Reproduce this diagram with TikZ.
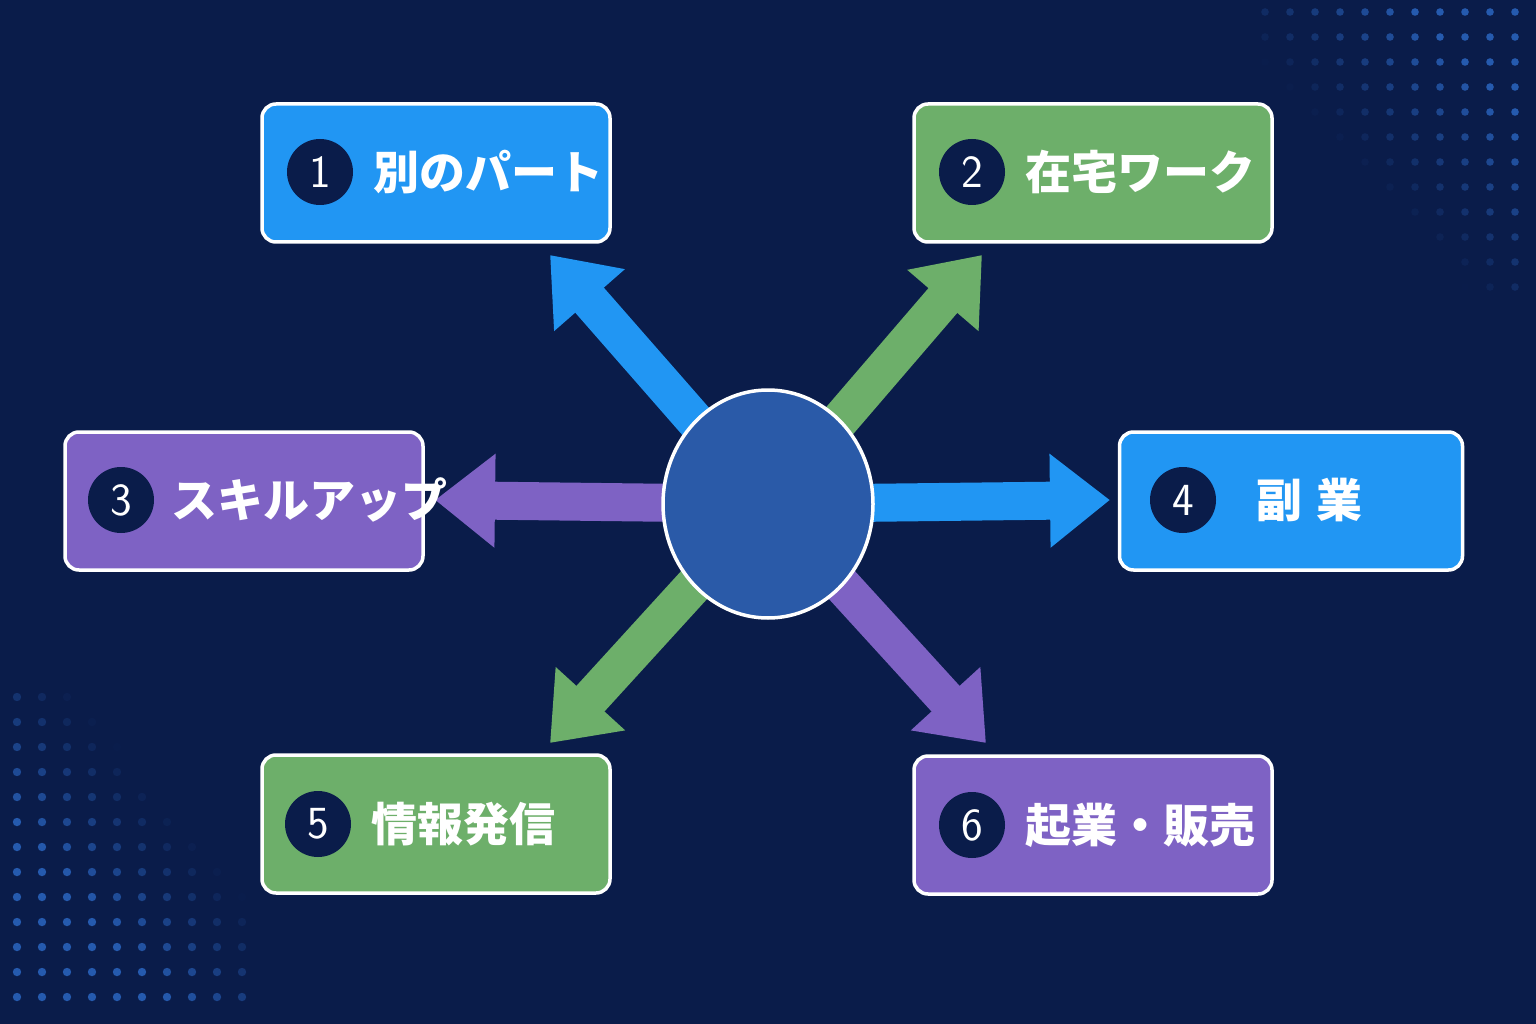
\documentclass[tikz,border=0pt]{standalone}
\usepackage{fontspec}
\newfontfamily\cjk{Noto Sans CJK JP}
\usetikzlibrary{arrows.meta,shapes.geometric}
\definecolor{bg}{HTML}{0A1C4A}
\definecolor{cblue}{HTML}{2196F3}
\definecolor{cgreen}{HTML}{6DAF6A}
\definecolor{cpurple}{HTML}{7E62C4}
\definecolor{ccircle}{HTML}{2A5AA8}
\definecolor{cdot}{HTML}{2F6FD0}
\definecolor{cnum}{HTML}{0A1C4A}
\begin{document}
\begin{tikzpicture}[x=1pt,y=-1pt,
 box/.style={draw=white,line width=3.5pt,rounded corners=14pt,minimum width=#1,minimum height=138pt,inner sep=0pt},
 num/.style={circle,fill=cnum,minimum size=66pt,inner sep=0pt,text=white,font=\fontsize{46}{46}\selectfont\sffamily},
 lab/.style={text=white,font=\cjk\bfseries\fontsize{46}{50}\selectfont,anchor=west},
 arr/.style={line width=38pt,-{Triangle[length=60pt,width=90pt]}}]
\fill[bg] (0,0) rectangle (1536,1024);
% dots
\foreach \i in {0,...,10}{\foreach \j in {0,...,11}{
 \pgfmathsetmacro\op{0.75*min(1,max(0,(\i-0.9*\j+2)/8))}
 \fill[cdot,opacity=\op] (1265+25*\i,12+25*\j) circle (3.8pt);}}
\foreach \i in {0,...,9}{\foreach \j in {0,...,12}{
 \pgfmathsetmacro\op{0.75*min(1,max(0,(\j-1.2*\i+3)/8))}
 \fill[cdot,opacity=\op] (17+25*\i,697+25*\j) circle (4.2pt);}}
% center
\coordinate (c) at (768,504);
\coordinate (t1) at (550,255);
\coordinate (t2) at (982,255);
\coordinate (t3) at (435,500);
\coordinate (t4) at (1110,500);
\coordinate (t5) at (550,743);
\coordinate (t6) at (986,743);
\draw[arr,cblue] (c) -- (t1);
\draw[arr,cgreen] (c) -- (t2);
\draw[arr,cpurple] (c) -- (t3);
\draw[arr,cblue] (c) -- (t4);
\draw[arr,cgreen] (c) -- (t5);
\draw[arr,cpurple] (c) -- (t6);
\node[ellipse,draw=white,line width=3.5pt,fill=ccircle,minimum width=210pt,minimum height=228pt] (center) at (c) {};
% boxes
\node[box=348pt,fill=cblue] (b1) at (436,173) {};
\node[box=358pt,fill=cgreen] (b2) at (1093,173) {};
\node[box=358pt,fill=cpurple] (b3) at (244,501) {};
\node[box=343pt,fill=cblue] (b4) at (1291,501) {};
\node[box=348pt,fill=cgreen] (b5) at (436,824) {};
\node[box=358pt,fill=cpurple] (b6) at (1093,825) {};
\node[num] (n1) at (320,172) {1};
\node[num] (n2) at (972,172) {2};
\node[num] (n3) at (121,500) {3};
\node[num] (n4) at (1183,500) {4};
\node[num] (n5) at (318,824) {5};
\node[num] (n6) at (972,825) {6};
\node[lab] (l1) at (370,172) {別のパート};
\node[lab] (l2) at (1022,172) {在宅ワーク};
\node[lab] (l3) at (168,500) {スキルアップ};
\node[lab] (l4) at (1253,500) {副\hspace{14pt}業};
\node[lab] (l5) at (368,824) {情報発信};
\node[lab] (l6) at (1022,825) {起業・販売};
\end{tikzpicture}
\end{document}
